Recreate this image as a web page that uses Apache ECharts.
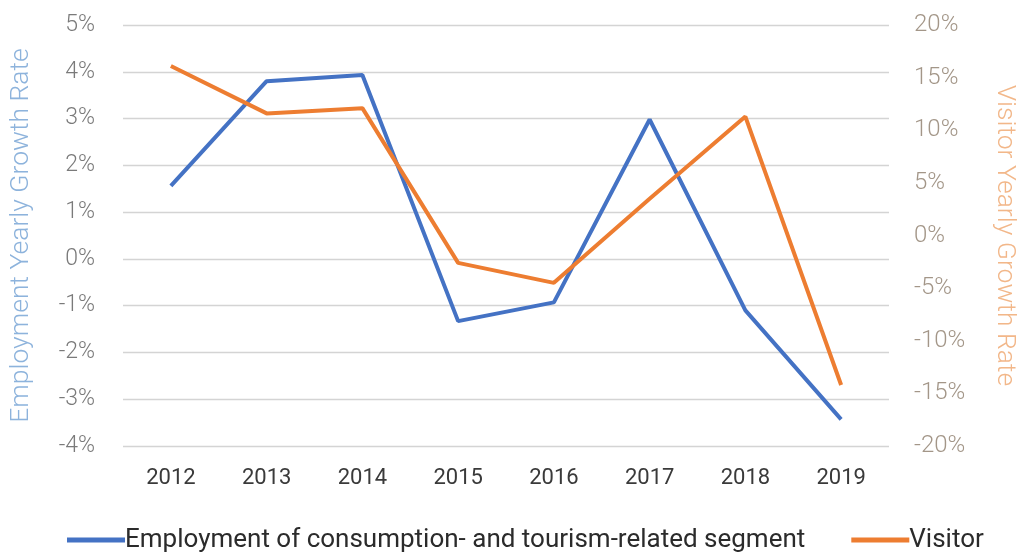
<!DOCTYPE html>
<html>
<head>
<meta charset="utf-8">
<script src="https://cdn.jsdelivr.net/npm/echarts@6/dist/echarts.min.js"></script>
<style>
  html, body { margin: 0; padding: 0; background: #ffffff; }
  #chart { width: 1026px; height: 553px; }
</style>
</head>
<body>
<div id="chart"></div>
<script>
// Years on the category axis
const years = ['2012', '2013', '2014', '2015', '2016', '2017', '2018', '2019'];

// Employment growth of the consumption- and tourism-related segment (%)
const employmentGrowth = [1.56, 3.80, 3.93, -1.33, -0.93, 2.98, -1.10, -3.43];

// Visitor arrivals growth (%)
const visitorGrowth = [16.1, 11.6, 12.1, -2.6, -4.5, 3.5, 11.3, -14.2];

const seriesNames = ['Employment of consumption- and tourism-related segment', 'Visitor'];

const FONT = 'Roboto, "DejaVu Sans Condensed", sans-serif';

const chart = echarts.init(document.getElementById('chart'), null, { renderer: 'canvas' });

chart.setOption({
  animation: false,
  grid: { left: 121, right: 126, top: 25, bottom: 107, containLabel: false },
  legend: {
    top: 522,
    left: 62,
    itemWidth: 58,
    itemHeight: 5,
    itemGap: 46,
    icon: 'rect',
    textStyle: { fontFamily: FONT, fontSize: 26, fontWeight: 400, color: '#2b2b2b', padding: [0, 0, 0, -5] },
    data: seriesNames
  },
  xAxis: {
    type: 'category',
    data: years,
    boundaryGap: true,
    axisLine: { show: false },
    axisTick: { show: false },
    axisLabel: { fontFamily: FONT, fontSize: 22, fontWeight: 400, color: '#3a3a3a', margin: 21 }
  },
  yAxis: [
    {
      type: 'value',
      min: -4, max: 5, interval: 1,
      name: 'Employment Yearly Growth Rate',
      nameLocation: 'middle',
      nameGap: 88,
      nameTextStyle: { fontFamily: FONT, fontSize: 26.5, fontWeight: 300, color: '#8db3dc' },
      axisLine: { show: false },
      axisTick: { show: false },
      axisLabel: { fontFamily: FONT, fontSize: 23, fontWeight: 300, color: '#7a7a7a', margin: 28, formatter: v => v + '%' },
      splitLine: { lineStyle: { color: '#d4d4d4', width: 1.3 } }
    },
    {
      type: 'value',
      min: -20, max: 20, interval: 5,
      name: 'Visitor Yearly Growth Rate',
      nameLocation: 'middle',
      nameGap: 102,
      nameRotate: -90,
      nameTextStyle: { fontFamily: FONT, fontSize: 26.5, fontWeight: 300, color: '#f2b789' },
      axisLine: { show: false },
      axisTick: { show: false },
      axisLabel: { fontFamily: FONT, fontSize: 24, fontWeight: 300, color: '#a39688', margin: 25, formatter: v => v + '%' },
      splitLine: { show: false }
    }
  ],
  series: [
    {
      name: seriesNames[0],
      type: 'line',
      yAxisIndex: 0,
      data: employmentGrowth,
      showSymbol: false,
      symbol: 'none',
      lineStyle: { color: '#4472c4', width: 4 },
      itemStyle: { color: '#4472c4' }
    },
    {
      name: seriesNames[1],
      type: 'line',
      yAxisIndex: 1,
      data: visitorGrowth,
      showSymbol: false,
      symbol: 'none',
      lineStyle: { color: '#ed7d31', width: 4 },
      itemStyle: { color: '#ed7d31' }
    }
  ]
});
</script>
</body>
</html>
